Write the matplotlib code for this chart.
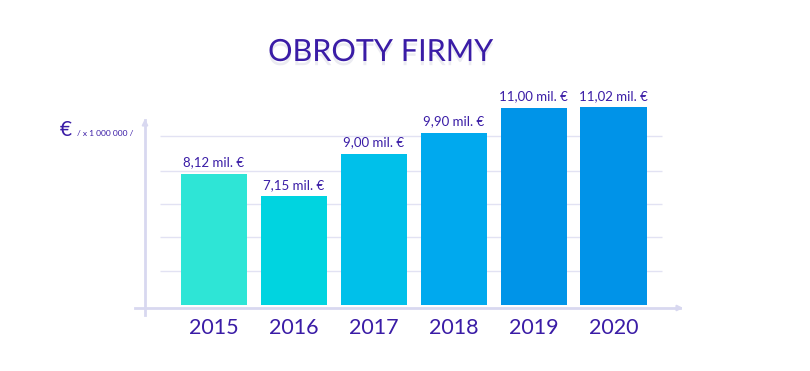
import matplotlib.pyplot as plt
import matplotlib.patheffects as pe
from matplotlib.lines import Line2D

years = ["2015", "2016", "2017", "2018", "2019", "2020"]
turnover = [8.12, 7.15, 9.00, 9.90, 11.00, 11.02]
value_labels = ["8,12 mil. €", "7,15 mil. €", "9,00 mil. €", "9,90 mil. €", "11,00 mil. €", "11,02 mil. €"]
bar_colors = ["#2ee5d6", "#00d4e0", "#00c0ea", "#00a9ee", "#0094e8", "#0093e8"]

text_color = "#3a1ca6"
line_color = "#d8d8f0"
plt.rcParams['font.family'] = ['Lato', 'DejaVu Sans']

W, H = 810, 371
fig = plt.figure(figsize=(W / 100, H / 100), dpi=100)
fig.patch.set_facecolor("white")

# axes box in pixels: left 146, right 680, bottom 305, top 100
ax = fig.add_axes([146 / W, (H - 305) / H, (680 - 146) / W, (305 - 100) / H])
x = list(range(len(years)))
ax.set_xlim(-0.85, 5.83)
ax.set_ylim(2.42, 11.34)

grid_vals = [3.90, 5.38, 6.82, 8.25, 9.77]
ax.hlines(grid_vals, -0.675, 5.61, colors="#e2e2f3", linewidth=1, zorder=0)

bars = ax.bar(x, turnover, width=0.83, color=bar_colors, zorder=2)
for b in bars:
    b.set_path_effects([pe.withSimplePatchShadow(offset=(0, -1.5), shadow_rgbFace="#1a8a90", alpha=0.35)])

for xi, v, lab in zip(x, turnover, value_labels):
    ax.annotate(lab, (xi, v), xytext=(0, 4), textcoords="offset points",
                ha="center", va="bottom", fontsize=9.5, color=text_color)

ax.set_xticks(x)
ax.set_xticklabels(years, fontsize=15.5, color=text_color)
ax.tick_params(axis="x", length=0, pad=9)
ax.set_yticks([])
for s in ax.spines.values():
    s.set_visible(False)

# axis arrows (figure pixel coordinates)
def fx(px):
    return px / W

def fy(py):
    return (H - py) / H

fig.add_artist(Line2D([fx(135), fx(680)], [fy(308), fy(308)], color=line_color, lw=2))
fig.add_artist(Line2D([fx(145), fx(145)], [fy(315), fy(120)], color=line_color, lw=2))
ax.annotate("", xy=(fx(686), fy(308)), xytext=(fx(675), fy(308)), xycoords="figure fraction",
            arrowprops=dict(arrowstyle="-|>", color=line_color, lw=1.5, mutation_scale=8))
ax.annotate("", xy=(fx(145), fy(116)), xytext=(fx(145), fy(126)), xycoords="figure fraction",
            arrowprops=dict(arrowstyle="-|>", color=line_color, lw=1.5, mutation_scale=8))

fig.text(fx(380), fy(52), "OBROTY FIRMY", ha="center", va="center", fontsize=22,
         color=text_color,
         path_effects=[pe.withSimplePatchShadow(offset=(0, -3), shadow_rgbFace="#b0b0c8", alpha=0.25)])
fig.text(fx(60), fy(130), "€", ha="left", va="center", fontsize=15, color=text_color)
fig.text(fx(77), fy(133), "/ x 1 000 000 /", ha="left", va="center", fontsize=6, color=text_color)

fig.savefig("out.png", dpi=100)
